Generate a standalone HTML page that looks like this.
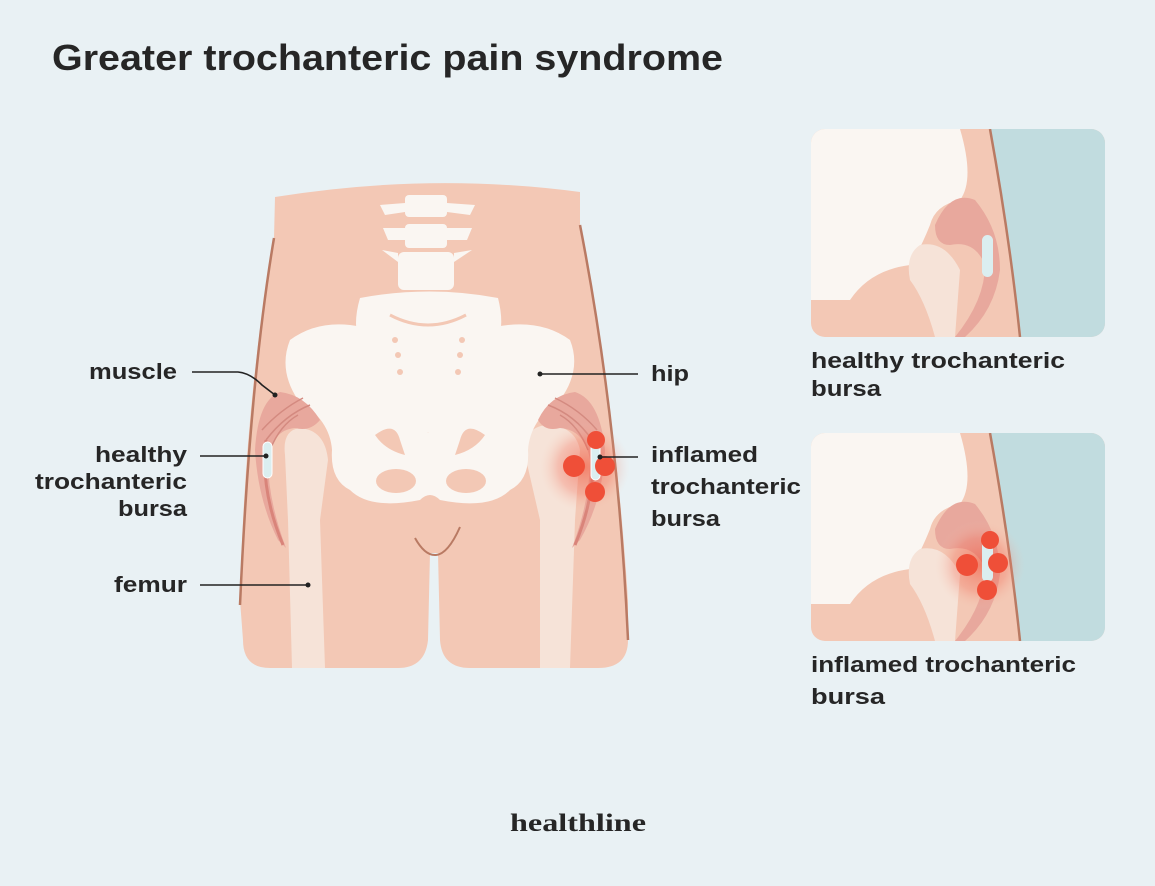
<!DOCTYPE html>
<html><head><style>
body{margin:0;background:#e9f1f4;}
svg{display:block}
text{font-family:"Liberation Sans",sans-serif;font-weight:bold;fill:#262626}
</style></head><body>
<svg width="1155" height="886" viewBox="0 0 1155 886" xmlns="http://www.w3.org/2000/svg">
<defs>
<radialGradient id="glow"><stop offset="0" stop-color="#f04a32" stop-opacity=".55"/><stop offset=".6" stop-color="#f26a55" stop-opacity=".3"/><stop offset="1" stop-color="#f3c8b5" stop-opacity="0"/></radialGradient>
<clipPath id="c1"><rect x="811" y="129" width="294" height="208" rx="14"/></clipPath>
<clipPath id="c2"><rect x="811" y="433" width="294" height="208" rx="14"/></clipPath>
</defs>
<text x="52" y="70" font-size="36" textLength="671" lengthAdjust="spacingAndGlyphs">Greater trochanteric pain syndrome</text>

<!-- body -->
<path d="M275,197 Q430,172 580,192 L580,228 Q615,400 628,600 L628,640 Q628,668 598,668 L470,668 Q442,668 440,640 L438,553 L430,553 L428,640 Q425,668 398,668 L270,668 Q243,668 243,640 L240,600 Q245,400 274,238 Z" fill="#f3c8b5"/>
<path d="M274,238 Q250,380 240,605" stroke="#b97a63" stroke-width="2.5" fill="none"/>
<path d="M580,225 Q618,420 628,640" stroke="#b97a63" stroke-width="2.5" fill="none"/>
<path d="M415,538 Q425,556 436,555 Q448,554 460,527" stroke="#b97a63" stroke-width="2" fill="none"/>
<!-- femurs -->
<path d="M285,455 Q282,430 300,428 Q325,430 328,460 L320,520 L325,668 L292,668 L288,520 Z" fill="#f6e3d8"/>
<path d="M525,455 Q520,430 545,425 Q575,425 580,450 L575,520 L570,668 L540,668 L540,520 Z" fill="#f6e3d8"/>
<!-- spine -->
<g fill="#faf6f2">
<rect x="405" y="195" width="42" height="22" rx="4"/><path d="M380,205 L405,203 L405,212 L385,215Z M447,203 L475,205 L470,215 L447,212Z"/>
<rect x="405" y="224" width="42" height="24" rx="4"/><path d="M383,228 L405,228 L405,240 L388,240Z M447,228 L472,228 L467,240 L447,240Z"/>
<rect x="398" y="252" width="56" height="38" rx="6"/><path d="M382,250 L398,253 L398,262Z M454,253 L472,250 L454,262Z"/>
<path d="M360,298 Q430,285 498,298 Q505,325 497,345 Q470,380 455,420 Q440,440 428,432 Q413,440 400,420 Q385,380 360,345 Q352,325 360,298 Z"/>
<path d="M362,327 Q320,318 290,340 Q278,370 298,400 Q330,420 332,450 Q330,480 350,490 Q370,510 420,500 Q430,490 440,500 Q490,510 510,490 Q530,480 528,450 Q530,420 560,400 Q582,370 570,340 Q540,318 495,327 Q475,380 445,425 Q430,440 415,425 Q385,380 362,327 Z"/>
</g>
<path d="M390,315 Q428,335 466,315" stroke="#f3c8b5" stroke-width="3" fill="none"/>
<g fill="#f3c8b5"><ellipse cx="396" cy="481" rx="20" ry="12"/><ellipse cx="466" cy="481" rx="20" ry="12"/>
<path d="M375,435 Q395,420 400,440 L405,455 Q385,450 375,435Z M485,435 Q465,420 460,440 L455,455 Q475,450 485,435Z"/>
<circle cx="395" cy="340" r="3"/><circle cx="398" cy="355" r="3"/><circle cx="400" cy="372" r="3"/><circle cx="462" cy="340" r="3"/><circle cx="460" cy="355" r="3"/><circle cx="458" cy="372" r="3"/></g>
<!-- left muscle -->
<path d="M320,420 Q305,395 280,392 Q258,400 255,450 Q258,500 278,540 L286,548 Q268,500 268,460 Q272,430 295,428 Q310,432 320,420 Z" fill="#e8a89d"/>
<path d="M310,405 Q285,415 266,440 M303,398 Q280,410 262,430 M298,415 Q280,425 270,450" stroke="#d48a80" stroke-width="1.5" fill="none"/>
<path d="M266,440 Q260,490 283,545" stroke="#d9847a" stroke-width="3" fill="none"/>
<rect x="263" y="442" width="9" height="36" rx="4.5" fill="#dbeef0" stroke="#fff"/>
<!-- right muscle -->
<path d="M538,420 Q550,395 575,392 Q600,400 605,450 Q603,500 580,540 L572,548 Q590,500 590,460 Q585,430 560,428 Q545,432 538,420 Z" fill="#e8a89d"/>
<path d="M548,405 Q575,415 592,440 M555,398 Q580,410 597,430 M560,415 Q578,425 588,450" stroke="#d48a80" stroke-width="1.5" fill="none"/>
<path d="M592,440 Q598,490 575,545" stroke="#d9847a" stroke-width="3" fill="none"/>
<circle cx="585" cy="467" r="45" fill="url(#glow)"/>
<rect x="591" y="444" width="9" height="36" rx="4.5" fill="#dbeef0" stroke="#fff"/>
<g fill="#ef4f38"><circle cx="596" cy="440" r="9"/><circle cx="574" cy="466" r="11"/><circle cx="605" cy="466" r="10"/><circle cx="595" cy="492" r="10"/></g>
<!-- leaders -->
<g stroke="#222" stroke-width="1.6" fill="none">
<path d="M192,372 L238,372 Q250,373 262,385 L275,395"/><path d="M200,456 L266,456"/><path d="M200,585 L308,585"/><path d="M540,374 L638,374"/><path d="M600,457 L638,457"/>
</g>
<g fill="#222"><circle cx="275" cy="395" r="2.5"/><circle cx="266" cy="456" r="2.5"/><circle cx="308" cy="585" r="2.5"/><circle cx="540" cy="374" r="2.5"/><circle cx="600" cy="457" r="2.5"/></g>
<g font-size="22" lengthAdjust="spacingAndGlyphs">
<text x="89" y="379" textLength="88" lengthAdjust="spacingAndGlyphs">muscle</text>
<text x="95" y="462" textLength="92" lengthAdjust="spacingAndGlyphs">healthy</text><text x="35" y="489" textLength="152" lengthAdjust="spacingAndGlyphs">trochanteric</text><text x="118" y="516" textLength="69" lengthAdjust="spacingAndGlyphs">bursa</text>
<text x="114" y="592" textLength="73" lengthAdjust="spacingAndGlyphs">femur</text>
<text x="651" y="381" textLength="38" lengthAdjust="spacingAndGlyphs">hip</text>
<text x="651" y="462" textLength="107" lengthAdjust="spacingAndGlyphs">inflamed</text><text x="651" y="494" textLength="150" lengthAdjust="spacingAndGlyphs">trochanteric</text><text x="651" y="526" textLength="69" lengthAdjust="spacingAndGlyphs">bursa</text>
<text x="811" y="368" textLength="254" lengthAdjust="spacingAndGlyphs">healthy trochanteric</text><text x="811" y="396" textLength="70" lengthAdjust="spacingAndGlyphs">bursa</text>
<text x="811" y="672" textLength="265" lengthAdjust="spacingAndGlyphs">inflamed trochanteric</text><text x="811" y="704" textLength="74" lengthAdjust="spacingAndGlyphs">bursa</text>
</g>
<!-- insets -->
<g clip-path="url(#c1)">
<rect x="811" y="129" width="294" height="208" fill="#f3c8b5"/>
<path d="M990,129 Q1010,240 1020,337 L1105,337 L1105,129Z" fill="#c1dcdf"/>
<path d="M990,129 Q1010,240 1020,337" stroke="#b97a63" stroke-width="2.5" fill="none"/>
<path d="M811,129 L960,129 Q975,180 960,200 Q935,205 930,225 Q920,250 910,265 Q870,270 850,300 L811,300Z" fill="#faf6f2"/>
<path d="M920,245 Q945,240 960,270 L955,337 L935,337 Q925,300 910,280 Q905,255 920,245Z" fill="#f6e3d8"/>
<path d="M935,225 Q950,190 975,200 Q1000,230 1000,270 Q995,310 965,337 L955,337 Q985,300 985,265 Q975,240 950,245 Q935,245 935,225Z" fill="#e8a89d"/>
<rect x="982" y="235" width="11" height="42" rx="5.5" fill="#dbeef0"/>
</g>
<g clip-path="url(#c2)">
<rect x="811" y="433" width="294" height="208" fill="#f3c8b5"/>
<path d="M990,433 Q1010,544 1020,641 L1105,641 L1105,433Z" fill="#c1dcdf"/>
<path d="M990,433 Q1010,544 1020,641" stroke="#b97a63" stroke-width="2.5" fill="none"/>
<path d="M811,433 L960,433 Q975,484 960,504 Q935,509 930,529 Q920,554 910,569 Q870,574 850,604 L811,604Z" fill="#faf6f2"/>
<path d="M920,549 Q945,544 960,574 L955,641 L935,641 Q925,604 910,584 Q905,559 920,549Z" fill="#f6e3d8"/>
<path d="M935,529 Q950,494 975,504 Q1000,534 1000,574 Q995,614 965,641 L955,641 Q985,604 985,569 Q975,544 950,549 Q935,549 935,529Z" fill="#e8a89d"/>
<circle cx="980" cy="565" r="45" fill="url(#glow)"/>
<rect x="982" y="540" width="11" height="42" rx="5.5" fill="#dbeef0"/>
<g fill="#ef4f38"><circle cx="990" cy="540" r="9"/><circle cx="967" cy="565" r="11"/><circle cx="998" cy="563" r="10"/><circle cx="987" cy="590" r="10"/></g>
</g>
<text x="510" y="831" font-size="25" textLength="136" lengthAdjust="spacingAndGlyphs" style="font-family:'Liberation Serif',serif" fill="#222">healthline</text>
</svg>
</body></html>
